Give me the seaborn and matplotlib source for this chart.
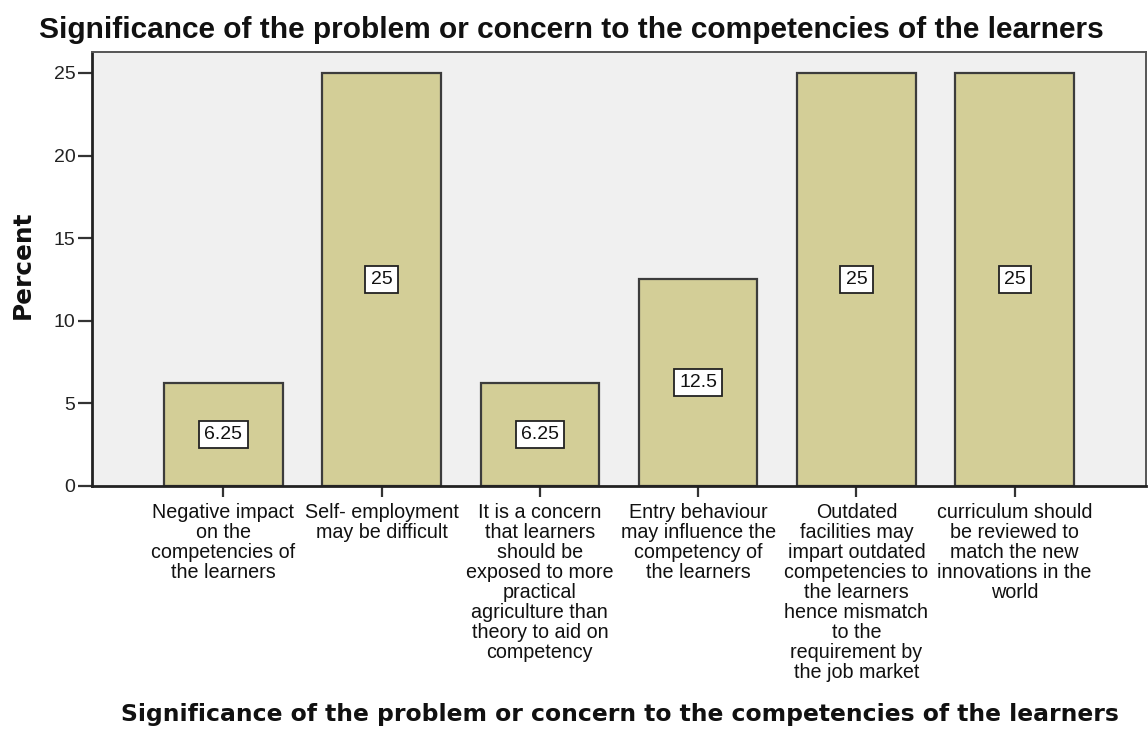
import matplotlib
matplotlib.use("Agg")
import matplotlib.pyplot as plt
import seaborn as sns
import pandas as pd

# ---- data ----
categories = [
    "Negative impact\non the\ncompetencies of\nthe learners",
    "Self- employment\nmay be difficult",
    "It is a concern\nthat learners\nshould be\nexposed to more\npractical\nagriculture than\ntheory to aid on\ncompetency",
    "Entry behaviour\nmay influence the\ncompetency of\nthe learners",
    "Outdated\nfacilities may\nimpart outdated\ncompetencies to\nthe learners\nhence mismatch\nto the\nrequirement by\nthe job market",
    "curriculum should\nbe reviewed to\nmatch the new\ninnovations in the\nworld",
]
percents = [6.25, 25, 6.25, 12.5, 25, 25]
value_labels = ["6.25", "25", "6.25", "12.5", "25", "25"]
y_ticks = [0, 5, 10, 15, 20, 25]
title_text = "Significance of the problem or concern to the competencies of the learners"
x_label = "Significance of the problem or concern to the competencies of the learners"
y_label = "Percent"

sns.set_theme(style="white")
plt.rcParams['font.family'] = ['Liberation Sans', 'DejaVu Sans']

W, H = 1148, 729
fig = plt.figure(figsize=(W / 100, H / 100), dpi=100)
fig.patch.set_facecolor("white")
ax = fig.add_axes([92 / W, 1 - 486 / H, (1146 - 92) / W, (486 - 52) / H])

df = pd.DataFrame({"cat": categories, "pct": percents})
sns.barplot(data=df, x="cat", y="pct", color="#D3CE97", saturation=1,
            edgecolor="#3c3c3c", linewidth=1.6, width=0.75, ax=ax, errorbar=None)

ax.set_facecolor("#F0F0F0")
ax.set_xlim(-0.83, 5.83)
ax.set_ylim(0, 26.27)
ax.set_yticks(y_ticks)
ax.set_yticklabels([str(v) for v in y_ticks], fontsize=14, color="#222222")

for t in ax.get_xticklabels():
    t.set_fontsize(14.2)
    t.set_linespacing(1.07)
    t.set_color("#111111")

ax.tick_params(axis="y", left=True, direction="out", length=10, width=1.6,
               color="#333333", pad=2)
ax.tick_params(axis="x", bottom=True, direction="out", length=8, width=1.6,
               color="#333333", pad=4)

for side, sp in ax.spines.items():
    sp.set_visible(True)
    sp.set_color("#555555" if side in ("top", "right") else "#222222")
    sp.set_linewidth(1.4 if side in ("top", "right") else 2.0)

# value labels
for p, lab in zip(ax.patches, value_labels):
    ax.text(p.get_x() + p.get_width() / 2, p.get_height() / 2, lab,
            ha="center", va="center", fontsize=14, color="#111111",
            bbox=dict(boxstyle="square,pad=0.27", fc="white", ec="#222222", lw=1.3))

ax.set_title(title_text, fontsize=21.5, fontweight="bold", x=(571 - 92) / 1054,
             y=(486 - 30) / 434, va="center", pad=0, color="#111111")
ax.set_xlabel(x_label, fontsize=16.9, fontweight="bold", va="center",
              family=["DejaVu Sans"], color="#111111")
ax.xaxis.set_label_coords((620 - 92) / 1054, (486 - 714) / 434)
ax.set_ylabel(y_label, fontsize=17.8, fontweight="bold", va="center",
              family=["DejaVu Sans"], color="#111111")
ax.yaxis.set_label_coords((23 - 92) / 1054, (486 - 265) / 434)

fig.savefig("out.png", dpi=100)
